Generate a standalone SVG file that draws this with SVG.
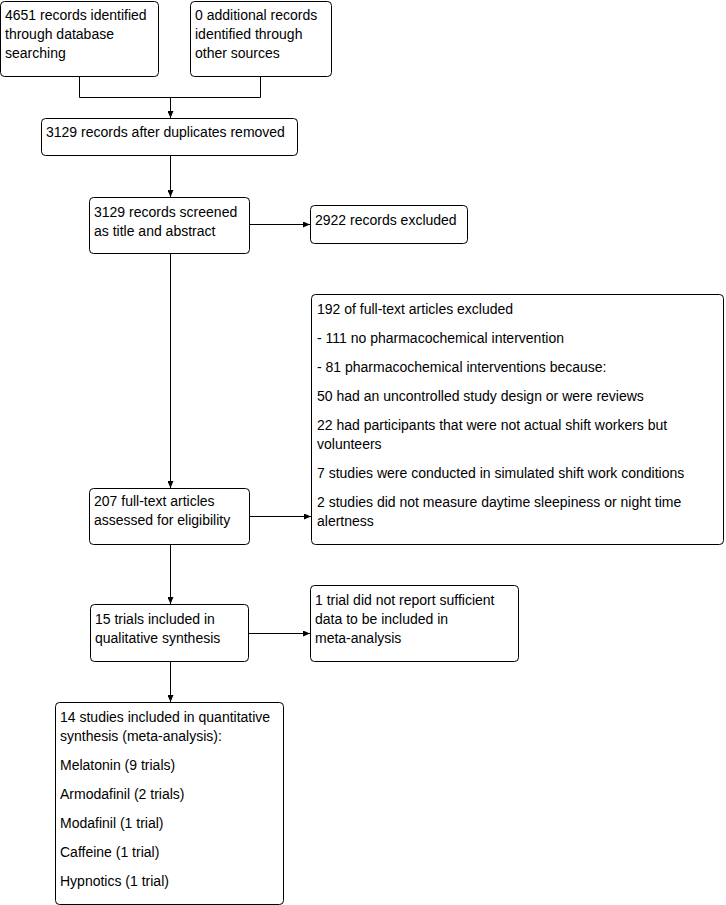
<svg xmlns="http://www.w3.org/2000/svg" width="726" height="905" viewBox="0 0 726 905">
<defs>
<style>
.box{fill:#fff;stroke:#000;stroke-width:1}
.t{font-family:"Liberation Sans",Arial,sans-serif;font-size:14px;fill:#000}
.c{fill:none;stroke:#000;stroke-width:1}
</style>
<marker id="ah" markerWidth="7" markerHeight="6" refX="7" refY="3" orient="auto" markerUnits="userSpaceOnUse">
<path d="M0,0 L7,3 L0,6 z" fill="#000"/>
</marker>
</defs>
<rect width="726" height="905" fill="#fff"/>
<g id="connectors">
<path class="c" d="M79.5,76 V97.5 H260.5 V76"/>
<path class="c" d="M170.5,97.5 V118" marker-end="url(#ah)"/>
<path class="c" d="M170.5,155 V197" marker-end="url(#ah)"/>
<path class="c" d="M249,224.5 H310" marker-end="url(#ah)"/>
<path class="c" d="M170.5,253 V488" marker-end="url(#ah)"/>
<path class="c" d="M249,516.5 H311" marker-end="url(#ah)"/>
<path class="c" d="M170.5,544 V604" marker-end="url(#ah)"/>
<path class="c" d="M249,633.5 H310" marker-end="url(#ah)"/>
<path class="c" d="M170.5,661 V702" marker-end="url(#ah)"/>
</g>
<g id="n1">
<rect class="box" x="0.5" y="1.5" width="158" height="75" rx="4"/>
<text class="t" x="5" y="20">4651 records identified</text>
<text class="t" x="5" y="39">through database</text>
<text class="t" x="5" y="58">searching</text>
</g>
<g id="n2">
<rect class="box" x="190.5" y="1.5" width="141" height="75" rx="4"/>
<text class="t" x="195" y="20">0 additional records</text>
<text class="t" x="195" y="39">identified through</text>
<text class="t" x="195" y="58">other sources</text>
</g>
<g id="n3">
<rect class="box" x="41.5" y="118.5" width="256" height="37" rx="4"/>
<text class="t" x="46" y="137">3129 records after duplicates removed</text>
</g>
<g id="n4">
<rect class="box" x="89.5" y="197.5" width="160" height="56" rx="4"/>
<text class="t" x="94" y="217">3129 records screened</text>
<text class="t" x="94" y="236">as title and abstract</text>
</g>
<g id="n5">
<rect class="box" x="310.5" y="205.5" width="157" height="38" rx="4"/>
<text class="t" x="315" y="225">2922 records excluded</text>
</g>
<g id="n6">
<rect class="box" x="311.5" y="294.5" width="412" height="250" rx="4"/>
<text class="t" x="317" y="314">192 of full-text articles excluded</text>
<text class="t" x="317" y="343">- 111 no pharmacochemical intervention</text>
<text class="t" x="317" y="372">- 81 pharmacochemical interventions because:</text>
<text class="t" x="317" y="401">50 had an uncontrolled study design or were reviews</text>
<text class="t" x="317" y="430">22 had participants that were not actual shift workers but</text>
<text class="t" x="317" y="449">volunteers</text>
<text class="t" x="317" y="478">7 studies were conducted in simulated shift work conditions</text>
<text class="t" x="317" y="507">2 studies did not measure daytime sleepiness or night time</text>
<text class="t" x="317" y="526">alertness</text>
</g>
<g id="n7">
<rect class="box" x="89.5" y="488.5" width="160" height="56" rx="4"/>
<text class="t" x="94" y="506">207 full-text articles</text>
<text class="t" x="94" y="525">assessed for eligibility</text>
</g>
<g id="n8">
<rect class="box" x="90.5" y="604.5" width="158" height="57" rx="4"/>
<text class="t" x="95" y="624">15 trials included in</text>
<text class="t" x="95" y="643">qualitative synthesis</text>
</g>
<g id="n9">
<rect class="box" x="310.5" y="585.5" width="208" height="76" rx="4"/>
<text class="t" x="315" y="605">1 trial did not report sufficient</text>
<text class="t" x="315" y="624">data to be included in</text>
<text class="t" x="315" y="643">meta-analysis</text>
</g>
<g id="n10">
<rect class="box" x="55.5" y="702.5" width="228" height="202" rx="4"/>
<text class="t" x="60" y="722">14 studies included in quantitative</text>
<text class="t" x="60" y="741">synthesis (meta-analysis):</text>
<text class="t" x="60" y="770">Melatonin (9 trials)</text>
<text class="t" x="60" y="799">Armodafinil (2 trials)</text>
<text class="t" x="60" y="828">Modafinil (1 trial)</text>
<text class="t" x="60" y="857">Caffeine (1 trial)</text>
<text class="t" x="60" y="886">Hypnotics (1 trial)</text>
</g>
</svg>
